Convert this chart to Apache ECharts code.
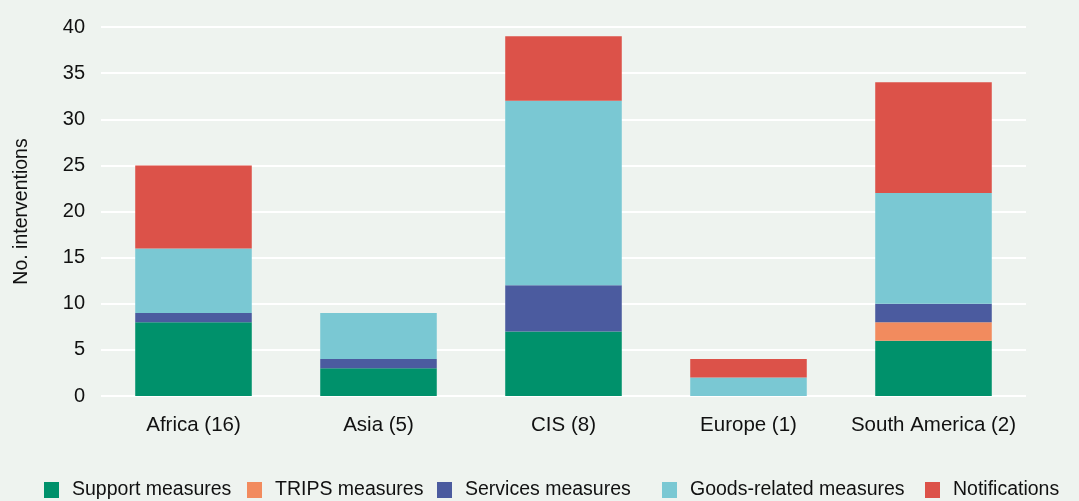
<!DOCTYPE html>
<html>
<head>
<meta charset="utf-8">
<script src="https://cdn.jsdelivr.net/npm/echarts@6/dist/echarts.min.js"></script>
<style>
  html, body { margin: 0; padding: 0; background: #eef3ef; }
  #chart { width: 1079px; height: 501px; }
</style>
</head>
<body>
<div id="chart"></div>
<script>
// 类别和数据
const regions = ['Africa (16)', 'Asia (5)', 'CIS (8)', 'Europe (1)', 'South America (2)']
const support = [8, 3, 7, 0, 6]
const trips = [0, 0, 0, 0, 2]
const services = [1, 1, 5, 0, 2]
const goods = [7, 5, 20, 2, 12]
const notifications = [9, 0, 7, 2, 12]
const yTicks = { min: 0, max: 40, interval: 5 }

const seriesList = [
  { name: 'Support measures', data: support, color: '#00916b' },
  { name: 'TRIPS measures', data: trips, color: '#f28b5e' },
  { name: 'Services measures', data: services, color: '#4b5b9f' },
  { name: 'Goods-related measures', data: goods, color: '#7ac8d3' },
  { name: 'Notifications', data: notifications, color: '#dc5249' }
]

// 图例各项的横向位置(按原图)
const legendLeft = [44, 247, 437, 662, 925]

const font = 'Liberation Sans, Arial, sans-serif'

const chart = echarts.init(document.getElementById('chart'))
chart.setOption({
  backgroundColor: '#eef3ef',
  animation: false,
  textStyle: { fontFamily: font },
  grid: { left: 101, right: 53, top: 27, bottom: 105 },
  legend: seriesList.map((s, i) => ({
    top: 480,
    left: legendLeft[i],
    padding: 0,
    itemWidth: 15,
    itemHeight: 16,
    icon: 'rect',
    textStyle: { fontSize: 19.5, color: '#111', fontFamily: font, padding: [0, 0, 0, 8] },
    data: [s.name]
  })),
  xAxis: {
    type: 'category',
    data: regions,
    axisLine: { show: false },
    axisTick: { show: false },
    axisLabel: { fontSize: 20.5, color: '#111', margin: 19, interval: 0 }
  },
  yAxis: {
    type: 'value',
    min: yTicks.min,
    max: yTicks.max,
    interval: yTicks.interval,
    name: 'No. interventions',
    nameLocation: 'middle',
    nameGap: 69,
    nameTextStyle: { fontSize: 19.5, color: '#111' },
    axisLabel: { fontSize: 20, color: '#111', margin: 16 },
    axisLine: { show: false },
    axisTick: { show: false },
    splitLine: { lineStyle: { color: '#ffffff', width: 2 } }
  },
  series: seriesList.map(s => ({
    name: s.name,
    type: 'bar',
    stack: 'total',
    barWidth: '63%',
    data: s.data.map(v => (v === 0 ? null : v)),
    itemStyle: { color: s.color }
  }))
})
</script>
</body>
</html>
